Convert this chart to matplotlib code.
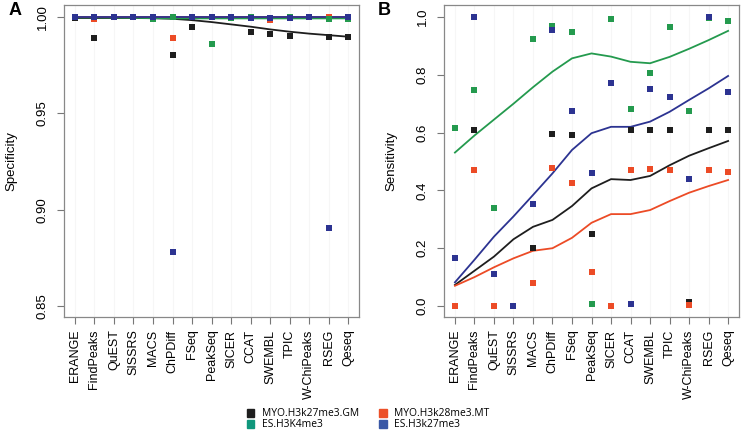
import matplotlib.pyplot as plt
from matplotlib.patches import Patch

plt.rcParams['font.family'] = ['Liberation Sans', 'DejaVu Sans']

methods = ['ERANGE', 'FindPeaks', 'QuEST', 'SISSRS', 'MACS', 'ChPDiff', 'FSeq',
           'PeakSeq', 'SICER', 'CCAT', 'SWEMBL', 'TPIC', 'W-ChiPeaks', 'RSEG', 'Qeseq']
series = ['MYO.H3k27me3.GM', 'MYO.H3k28me3.MT', 'ES.H3K4me3', 'ES.H3k27me3']

# panel A: specificity (points)
spec_gm = [0.9995, 0.9889, 1.0, 1.0, 1.0, 0.9802, 0.9946, 1.0, 1.0, 0.9920, 0.9910, 0.9903, 1.0, 0.9898, 0.9898]
spec_mt = [1.0, 0.9990, 1.0, 1.0, 1.0, 0.9892, 1.0, 1.0, 1.0, 1.0, 0.9986, 1.0, 1.0, 1.0, 1.0]
spec_k4 = [1.0, 1.0, 1.0, 1.0, 0.9990, 1.0, 1.0, 0.9861, 0.9995, 1.0, 0.9995, 1.0, 1.0, 0.9988, 0.9992]
spec_k27 = [1.0, 1.0, 1.0, 1.0, 1.0, 0.8783, 1.0, 1.0, 1.0, 0.9995, 0.9995, 0.9995, 1.0, 0.8903, 1.0]
# panel A: smoothed trend lines
spec_gm_fit = [0.9995, 0.9995, 0.9995, 0.9995, 0.9994, 0.9991, 0.9984, 0.9974, 0.9962,
               0.9950, 0.9936, 0.9924, 0.9914, 0.9906, 0.9898]
spec_mt_fit = [1.0] * 15
spec_k4_fit = [0.9998, 0.9998, 0.9997, 0.9996, 0.9994, 0.9993, 0.9993, 0.9993, 0.9993,
               0.9993, 0.9993, 0.9993, 0.9993, 0.9993, 0.9993]
spec_k27_fit = [1.0] * 15

# panel B: sensitivity (points)
sens_gm = [0.0, 0.609, 0.0, 0.0, 0.200, 0.595, 0.592, 0.248, 0.0, 0.609, 0.609, 0.609, 0.013, 0.609, 0.609]
sens_mt = [0.0, 0.471, 0.0, 0.0, 0.080, 0.479, 0.426, 0.119, 0.0, 0.471, 0.475, 0.471, 0.003, 0.471, 0.464]
sens_k4 = [0.617, 0.747, 0.340, 0.0, 0.925, 0.970, 0.949, 0.006, 0.993, 0.683, 0.807, 0.964, 0.675, 0.996, 0.987]
sens_k27 = [0.165, 1.0, 0.112, 0.001, 0.352, 0.956, 0.675, 0.459, 0.772, 0.007, 0.750, 0.722, 0.438, 1.0, 0.740]
# panel B: smoothed trend lines
sens_gm_fit = [0.073, 0.122, 0.171, 0.231, 0.274, 0.298, 0.346, 0.407, 0.439, 0.436, 0.450, 0.487, 0.520, 0.546, 0.571]
sens_mt_fit = [0.070, 0.100, 0.134, 0.165, 0.191, 0.200, 0.236, 0.288, 0.318, 0.318, 0.332, 0.363, 0.392, 0.415, 0.436]
sens_k4_fit = [0.531, 0.590, 0.645, 0.700, 0.757, 0.811, 0.857, 0.874, 0.863, 0.845, 0.840, 0.862, 0.890, 0.920, 0.952]
sens_k27_fit = [0.082, 0.160, 0.240, 0.310, 0.384, 0.459, 0.540, 0.598, 0.620, 0.620, 0.638, 0.672, 0.713, 0.753, 0.796]

point_cols = ['#1e1e1e', '#ec4b26', '#249a4e', '#2c3391']
legend_cols = ['#1e1e1e', '#ec5028', '#10977c', '#3a58a6']

x = list(range(1, len(methods) + 1))

fig = plt.figure(figsize=(7.42, 4.32), dpi=100)
axA = fig.add_axes([0.0863, 0.2662, 0.3976, 0.7222])
axB = fig.add_axes([0.5984, 0.2662, 0.3976, 0.7222])


def yticks_fmt(ticks, ylim):
    if ylim[0] > 0.5:
        return ['%.2f' % t for t in ticks]
    return ['%.1f' % t for t in ticks]


def draw(ax, pts, fits, ylim, yticks, ylabel):
    for xi in x:
        ax.axvline(xi, color='#f6f6f6', lw=0.8, zorder=0)
    for vals, c in zip(pts, point_cols):
        ax.plot(x, vals, 's', color=c, ms=4.3, mew=0, zorder=3)
    for vals, c in zip(fits, [point_cols[0], point_cols[2], point_cols[1], point_cols[3]]):
        ax.plot(x, vals, '-', color=c, lw=1.3, zorder=2)
    ax.set_xlim(0.44, 15.56)
    ax.set_ylim(*ylim)
    ax.set_yticks(yticks)
    ax.set_yticklabels(yticks_fmt(yticks, ylim), rotation=90, va='center', fontsize=9.5)
    ax.set_xticks(x)
    ax.set_xticklabels(methods, rotation=90, fontsize=9)
    ax.tick_params(color='#777777', length=5, pad=4)
    ax.tick_params(axis='y', pad=6)
    for s in ax.spines.values():
        s.set_color('#888888')
        s.set_linewidth(0.9)
    ax.set_ylabel(ylabel, fontsize=9.5, labelpad=14)


draw(axA, [spec_gm, spec_mt, spec_k4, spec_k27],
     [spec_gm_fit, spec_k4_fit, spec_mt_fit, spec_k27_fit],
     (0.8443, 1.00625), [0.85, 0.90, 0.95, 1.00], 'Specificity')
draw(axB, [sens_gm, sens_mt, sens_k4, sens_k27],
     [sens_gm_fit, sens_k4_fit, sens_mt_fit, sens_k27_fit],
     (-0.038, 1.0415), [0.0, 0.2, 0.4, 0.6, 0.8, 1.0], 'Sensitivity')

fig.text(0.011, 0.965, 'A', fontsize=13, fontweight='bold')
fig.text(0.509, 0.965, 'B', fontsize=13, fontweight='bold')

order = [0, 2, 1, 3]
handles = [Patch(color=legend_cols[i], label=series[i]) for i in order]
fig.legend(handles=handles, ncol=2, loc='center', bbox_to_anchor=(0.496, 0.029),
           frameon=False, handlelength=0.75, handleheight=0.95,
           handletextpad=0.7, columnspacing=2.0, labelspacing=0.0,
           prop={'family': 'Open Sans', 'size': 7.4})

fig.savefig('out.png', dpi=100)
